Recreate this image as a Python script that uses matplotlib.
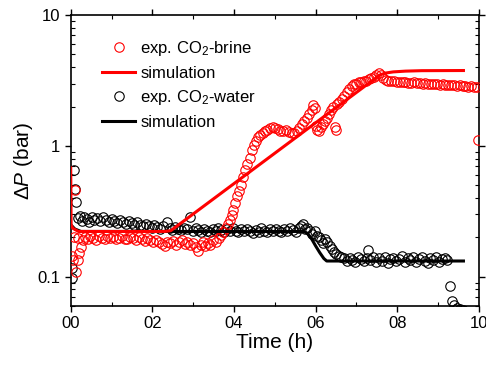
import numpy as np
import matplotlib
matplotlib.use("Agg")
import matplotlib.pyplot as plt
from matplotlib.ticker import FixedLocator, FixedFormatter, NullFormatter

plt.rcParams["font.family"] = ["Liberation Sans", "DejaVu Sans"]
plt.rcParams["mathtext.fontset"] = "custom"
plt.rcParams["mathtext.rm"] = "Liberation Sans"
plt.rcParams["mathtext.it"] = "Liberation Sans:italic"

# experiment, CO2-brine: (time in h, dP in bar)
brine = [(0.02, 0.143), (0.05, 0.135), (0.09, 0.200), (0.10, 0.460), (0.13, 0.108),
         (0.17, 0.135), (0.19, 0.197), (0.21, 0.152), (0.25, 0.170), (0.30, 0.190),
         (0.36, 0.200), (0.42, 0.195), (0.48, 0.205), (0.55, 0.198), (0.62, 0.192),
         (0.69, 0.204), (0.76, 0.199), (0.83, 0.193), (0.90, 0.206), (0.97, 0.197),
         (1.04, 0.201), (1.11, 0.194), (1.18, 0.199), (1.25, 0.206), (1.32, 0.196),
         (1.39, 0.193), (1.46, 0.202), (1.53, 0.198), (1.60, 0.191), (1.67, 0.200),
         (1.74, 0.195), (1.81, 0.188), (1.88, 0.197), (1.95, 0.190), (2.02, 0.184),
         (2.09, 0.192), (2.16, 0.186), (2.23, 0.178), (2.30, 0.172), (2.37, 0.185),
         (2.44, 0.180), (2.51, 0.189), (2.58, 0.176), (2.65, 0.183), (2.72, 0.190),
         (2.79, 0.179), (2.86, 0.186), (2.93, 0.175), (3.00, 0.182), (3.06, 0.170),
         (3.12, 0.157), (3.18, 0.176), (3.24, 0.185), (3.30, 0.172), (3.36, 0.180),
         (3.42, 0.174), (3.49, 0.190), (3.56, 0.186), (3.63, 0.198), (3.69, 0.210),
         (3.74, 0.218), (3.80, 0.238), (3.85, 0.252), (3.90, 0.270), (3.94, 0.295),
         (3.98, 0.325), (4.03, 0.365), (4.08, 0.415), (4.12, 0.450), (4.17, 0.500),
         (4.23, 0.580), (4.28, 0.650), (4.33, 0.730), (4.38, 0.810), (4.43, 0.930),
         (4.48, 1.020), (4.53, 1.100), (4.58, 1.160), (4.64, 1.210), (4.70, 1.260),
         (4.76, 1.300), (4.82, 1.330), (4.88, 1.360), (4.95, 1.400), (5.01, 1.380),
         (5.07, 1.340), (5.13, 1.310), (5.20, 1.290), (5.27, 1.320), (5.34, 1.270),
         (5.41, 1.250), (5.48, 1.260), (5.54, 1.300), (5.60, 1.380), (5.66, 1.460),
         (5.72, 1.550), (5.78, 1.640), (5.84, 1.760), (5.90, 1.880), (5.94, 2.050),
         (5.98, 1.950), (6.00, 1.420), (6.04, 1.330), (6.09, 1.300), (6.13, 1.400),
         (6.17, 1.480), (6.22, 1.560), (6.27, 1.640), (6.32, 1.750), (6.37, 1.880),
         (6.42, 2.000), (6.47, 1.400), (6.50, 1.320), (6.53, 2.080), (6.58, 2.180),
         (6.64, 2.280), (6.70, 2.420), (6.76, 2.580), (6.82, 2.720), (6.88, 2.850),
         (6.94, 2.950), (7.00, 3.000), (7.06, 3.060), (7.12, 3.100), (7.18, 3.130),
         (7.24, 3.160), (7.30, 3.220), (7.36, 3.280), (7.42, 3.380), (7.48, 3.480),
         (7.54, 3.580), (7.60, 3.480), (7.66, 3.280), (7.72, 3.180), (7.78, 3.140),
         (7.85, 3.120), (7.92, 3.110), (7.99, 3.080), (8.06, 3.100), (8.13, 3.060),
         (8.20, 3.080), (8.27, 3.050), (8.34, 3.030), (8.41, 3.060), (8.48, 3.010),
         (8.55, 3.030), (8.62, 2.990), (8.69, 3.010), (8.76, 2.970), (8.83, 3.000),
         (8.90, 2.960), (8.97, 2.980), (9.04, 2.940), (9.11, 2.960), (9.18, 2.920),
         (9.25, 2.940), (9.32, 2.900), (9.39, 2.920), (9.46, 2.880), (9.53, 2.900),
         (9.60, 2.860), (9.67, 2.880), (9.74, 2.840), (9.81, 2.860), (9.88, 2.820),
         (9.95, 2.800), (9.98, 1.110)]

# experiment, CO2-water
water = [(0.02, 0.117), (0.04, 0.098), (0.07, 0.660), (0.10, 0.470), (0.12, 0.370),
         (0.18, 0.280), (0.22, 0.290), (0.27, 0.265), (0.33, 0.285), (0.39, 0.275),
         (0.45, 0.262), (0.51, 0.288), (0.58, 0.270), (0.65, 0.280), (0.72, 0.266),
         (0.79, 0.284), (0.86, 0.272), (0.93, 0.260), (1.00, 0.278), (1.07, 0.268),
         (1.14, 0.258), (1.21, 0.274), (1.28, 0.262), (1.35, 0.252), (1.42, 0.266),
         (1.49, 0.256), (1.56, 0.248), (1.63, 0.260), (1.70, 0.250), (1.77, 0.243),
         (1.84, 0.254), (1.91, 0.246), (1.98, 0.238), (2.05, 0.250), (2.12, 0.240),
         (2.19, 0.233), (2.26, 0.244), (2.35, 0.262), (2.42, 0.236), (2.49, 0.228),
         (2.56, 0.240), (2.63, 0.232), (2.70, 0.226), (2.77, 0.238), (2.84, 0.230),
         (2.92, 0.286), (2.99, 0.222), (3.06, 0.234), (3.13, 0.226), (3.20, 0.220),
         (3.27, 0.232), (3.34, 0.224), (3.41, 0.218), (3.48, 0.230), (3.55, 0.222),
         (3.62, 0.234), (3.69, 0.226), (3.76, 0.219), (3.83, 0.231), (3.90, 0.223),
         (3.97, 0.235), (4.04, 0.225), (4.11, 0.218), (4.18, 0.230), (4.25, 0.222),
         (4.32, 0.233), (4.39, 0.224), (4.46, 0.217), (4.53, 0.229), (4.60, 0.221),
         (4.67, 0.234), (4.74, 0.225), (4.81, 0.218), (4.88, 0.230), (4.95, 0.222),
         (5.02, 0.232), (5.09, 0.224), (5.16, 0.219), (5.23, 0.231), (5.30, 0.223),
         (5.37, 0.235), (5.44, 0.226), (5.51, 0.220), (5.58, 0.238), (5.64, 0.246),
         (5.68, 0.255), (5.74, 0.230), (5.80, 0.236), (5.86, 0.224), (5.92, 0.214),
         (5.98, 0.222), (6.03, 0.205), (6.08, 0.200), (6.13, 0.192), (6.18, 0.182),
         (6.24, 0.196), (6.29, 0.186), (6.34, 0.172), (6.39, 0.162), (6.44, 0.156),
         (6.50, 0.150), (6.56, 0.145), (6.62, 0.142), (6.69, 0.138), (6.76, 0.132),
         (6.83, 0.140), (6.90, 0.135), (6.97, 0.130), (7.04, 0.142), (7.11, 0.136),
         (7.18, 0.131), (7.25, 0.139), (7.29, 0.160), (7.34, 0.134), (7.41, 0.141),
         (7.48, 0.130), (7.55, 0.138), (7.62, 0.133), (7.69, 0.142), (7.76, 0.128),
         (7.83, 0.137), (7.90, 0.140), (7.97, 0.131), (8.04, 0.136), (8.11, 0.143),
         (8.18, 0.129), (8.25, 0.138), (8.32, 0.134), (8.39, 0.141), (8.46, 0.130),
         (8.53, 0.137), (8.60, 0.142), (8.67, 0.133), (8.74, 0.128), (8.81, 0.139),
         (8.88, 0.135), (8.95, 0.141), (9.02, 0.130), (9.09, 0.136), (9.16, 0.140),
         (9.22, 0.134), (9.29, 0.085), (9.35, 0.065), (9.39, 0.061), (9.46, 0.058),
         (9.54, 0.057), (9.62, 0.056)]

# simulations
sim_brine_t = [0.0, 0.01, 0.05, 0.19, 2.30, 2.45, 7.57, 7.70, 7.90, 8.20, 8.60, 9.62]
sim_brine_p = [0.68, 0.25, 0.235, 0.222, 0.222, 0.225, 3.48, 3.60, 3.68, 3.73, 3.76, 3.77]
sim_water_t = [0.0, 0.10, 0.25, 5.70, 5.80, 5.90, 6.00, 6.10, 6.20, 6.27, 9.62]
sim_water_p = [0.25, 0.232, 0.222, 0.222, 0.215, 0.195, 0.172, 0.153, 0.138, 0.132, 0.132]

xticks = [0, 2, 4, 6, 8, 10]
xlabels = ["00", "02", "04", "06", "08", "10"]
yticks = [0.1, 1, 10]
ylabels = ["0.1", "1", "10"]

brine_t, brine_p = zip(*brine)
water_t, water_p = zip(*water)

fig = plt.figure(figsize=(4.86, 3.68), dpi=100)
ax = fig.add_axes([0.1455, 0.169, 0.84, 0.79])

ax.plot(water_t, water_p, "o", mfc="none", mec="black", ms=6.8, mew=0.8,
        label="exp. CO$_2$-water", zorder=2)
ax.plot(brine_t, brine_p, "o", mfc="none", mec="red", ms=6.8, mew=0.8,
        label="exp. CO$_2$-brine", zorder=3)
ax.plot(sim_water_t, sim_water_p, "-", color="black", lw=2.2, label="simulation", zorder=4)
ax.plot(sim_brine_t, sim_brine_p, "-", color="red", lw=2.2, label="simulation", zorder=5)

ax.set_yscale("log")
ax.set_xlim(0, 10)
ax.set_ylim(0.06, 10)

ax.xaxis.set_major_locator(FixedLocator(xticks))
ax.xaxis.set_major_formatter(FixedFormatter(xlabels))
ax.xaxis.set_minor_locator(FixedLocator([1, 3, 5, 7, 9]))
ax.yaxis.set_major_locator(FixedLocator(yticks))
ax.yaxis.set_major_formatter(FixedFormatter(ylabels))
minor_y = [m * d for d in (0.01, 0.1, 1) for m in range(2, 10)]
ax.yaxis.set_minor_locator(FixedLocator(minor_y))
ax.yaxis.set_minor_formatter(NullFormatter())

ax.tick_params(which="major", direction="out", length=4, width=1, labelsize=12,
               top=True, right=True)
ax.tick_params(which="minor", direction="in", length=3, width=0.8, top=True, right=True)
for s in ax.spines.values():
    s.set_linewidth(1.2)

ax.set_xlabel("Time (h)", fontsize=15, labelpad=1)
ax.set_ylabel(r"$\Delta\mathit{P}$ (bar)", fontsize=15, labelpad=2)

h, l = ax.get_legend_handles_labels()
order = [1, 3, 0, 2]
ax.legend([h[i] for i in order], [l[i] for i in order], loc="upper left",
          bbox_to_anchor=(0.06, 0.94), frameon=False, fontsize=12, handlelength=2.0,
          handletextpad=0.3, labelspacing=0.45, borderaxespad=0)

fig.savefig("out.png", dpi=100)
